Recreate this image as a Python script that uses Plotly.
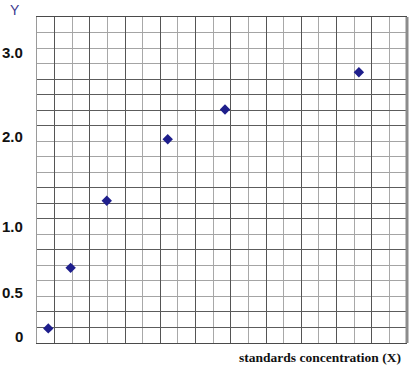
import plotly.graph_objects as go

# ---- data ----
x_values = [0.64, 1.91, 3.96, 7.42, 10.67, 18.27]   # standards concentration (grid units)
y_values = [0.09, 0.74, 1.46, 2.12, 2.44, 2.84]      # Y

y_tick_text = ["0", "0.5", "1.0", "2.0", "3.0"]
y_tick_pos = [0.0, 0.48, 1.18, 2.15, 3.05]           # where the labels sit on the axis

x_title = "standards concentration (X)"
y_title = "Y"

# ---- axis geometry ----
n_cols = 21
n_rows = 21
row_step = 1 / 6
y_lo = -0.0667
y_hi = y_lo + n_rows * row_step
dark_rows = [1, 2, 6, 8, 9, 10, 14, 15, 16, 17]

fig = go.Figure()
fig.add_trace(go.Scatter(
    x=x_values, y=y_values, mode="markers",
    marker=dict(symbol="diamond", size=8, color="#1e1e8c",
                line=dict(width=0)),
    hoverinfo="skip", showlegend=False,
))

fig.update_xaxes(
    range=[0, n_cols], showticklabels=False, ticks="",
    tickmode="linear", tick0=1, dtick=2,
    showgrid=True, gridcolor="#555555", gridwidth=1,
    minor=dict(tickmode="linear", tick0=0, dtick=1, showgrid=True,
               gridcolor="#a8a8a8", gridwidth=1, ticks=""),
    zeroline=False, showline=True, linecolor="#4a4a4a", linewidth=1, mirror=True,
)
fig.update_yaxes(
    range=[y_lo, y_hi], showticklabels=False, ticks="",
    tickmode="array", tickvals=[y_lo + r * row_step for r in dark_rows],
    showgrid=True, gridcolor="#5c5c5c", gridwidth=1,
    minor=dict(tickmode="linear", tick0=y_lo, dtick=row_step, showgrid=True,
               gridcolor="#a4a4a4", gridwidth=1, ticks=""),
    zeroline=False, showline=True, linecolor="#9a9a9a", linewidth=1,
)

annotations = []
for txt, pos in zip(y_tick_text, y_tick_pos):
    annotations.append(dict(
        text=txt, x=0, xref="paper", y=pos, yref="y",
        xanchor="right", yanchor="middle", xshift=-12, showarrow=False,
        font=dict(family="Liberation Sans, Arial, sans-serif", size=15,
                  color="#111111", weight="bold"),
    ))
annotations.append(dict(
    text=y_title, x=0, xref="paper", y=1, yref="paper",
    xanchor="center", yanchor="middle", xshift=-22, yshift=7, showarrow=False,
    font=dict(family="Liberation Sans, Arial, sans-serif", size=14, color="#3a3a90"),
))
annotations.append(dict(
    text=x_title, x=1, xref="paper", y=0, yref="paper",
    xanchor="right", yanchor="middle", xshift=-4, yshift=-14, showarrow=False,
    font=dict(family="Liberation Serif, Times New Roman, serif", size=13.5,
              color="#111111", weight="bold"),
))

fig.update_layout(
    width=418, height=387, autosize=False,
    margin=dict(l=37, r=11, t=17, b=44, pad=0),
    paper_bgcolor="white", plot_bgcolor="white",
    annotations=annotations,
    shapes=[dict(type="line", xref="paper", yref="paper", x0=1, x1=1, y0=0, y1=1,
                 line=dict(color="#8c8c8c", width=3))],
)

fig.write_html("out.html")
